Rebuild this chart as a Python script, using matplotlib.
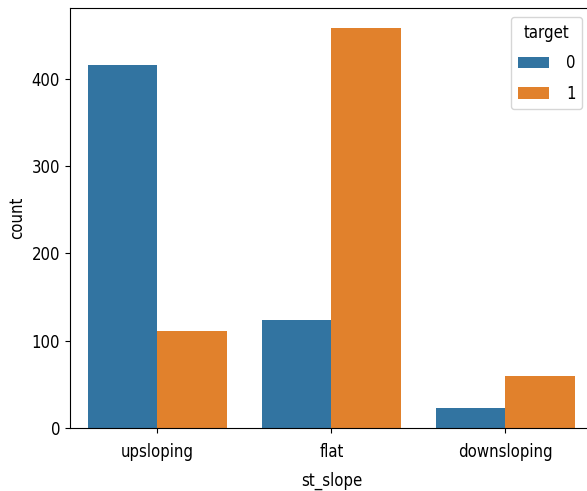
import numpy as np
import matplotlib.pyplot as plt

# counts
categories = ["upsloping", "flat", "downsloping"]
target_0 = [416, 124, 23]
target_1 = [111, 458, 60]
hue_labels = ["0", "1"]

colors = ["#3274a1", "#e1812c"]

plt.rcParams["font.family"] = ["DejaVu Sans"]
plt.rcParams["font.stretch"] = "condensed"
plt.rcParams["font.size"] = 12

fig = plt.figure(figsize=(5.87, 4.91), dpi=100)
# the original picture is cropped, right spine falls just outside
ax = fig.add_axes([0.12, 0.128, 0.889, 0.856])

x = np.arange(len(categories))
w = 0.4
ax.bar(x - w / 2, target_0, width=w, color=colors[0], label=hue_labels[0])
ax.bar(x + w / 2, target_1, width=w, color=colors[1], label=hue_labels[1])

ax.set_xticks(x)
ax.set_xticklabels(categories)
ax.tick_params(axis="x", pad=7)
ax.tick_params(axis="y", pad=4)
ax.set_xlim(-0.5, len(categories) - 0.5)
ax.set_ylim(0, max(max(target_0), max(target_1)) * 1.05)
ax.set_yticks([0, 100, 200, 300, 400])
ax.set_xlabel("st_slope", labelpad=8)
ax.set_ylabel("count")
ax.legend(title="target", loc="upper right", labelspacing=0.75,
          bbox_to_anchor=(582 / 587, 1 - 17 / 491), bbox_transform=fig.transFigure,
          borderaxespad=0, handlelength=1.9, handletextpad=1.0)

fig.savefig("out.png", dpi=100)
